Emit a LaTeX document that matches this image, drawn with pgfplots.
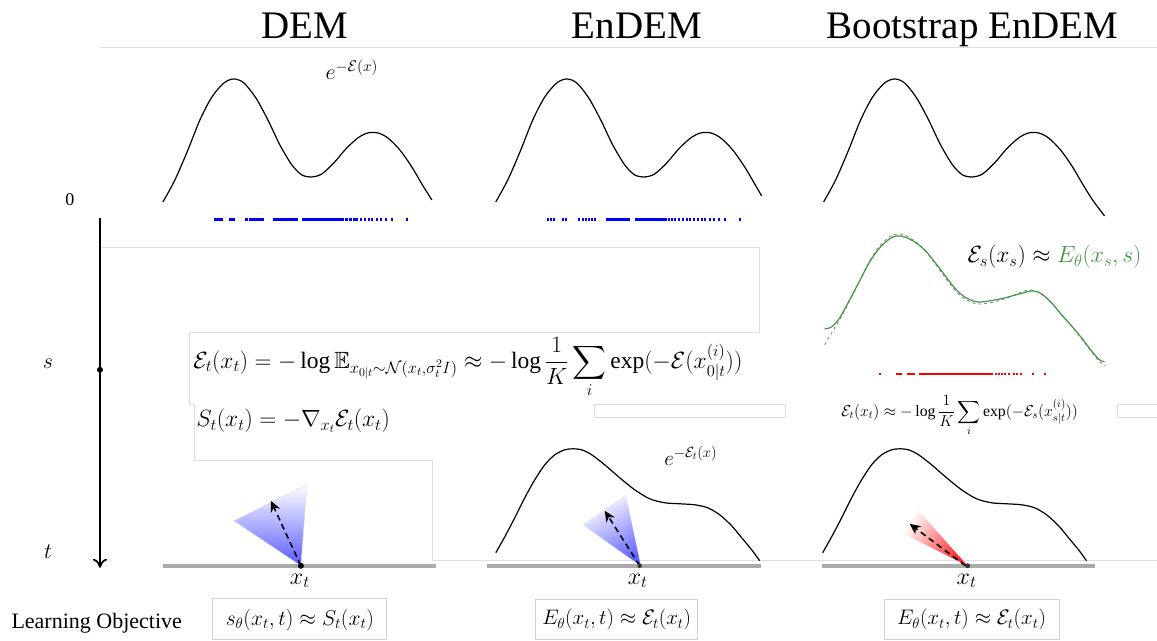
\documentclass[border=0pt]{standalone}
\usepackage{fix-cm}
\usepackage{amsmath,amssymb}
\usepackage{fontspec}
\setmainfont{Liberation Serif}
\usepackage{pgfplots}
\pgfplotsset{compat=1.18}
\usetikzlibrary{arrows.meta}
\definecolor{mygreen}{RGB}{64,152,64}
\definecolor{linegray}{RGB}{222,222,222}
\definecolor{basegray}{RGB}{170,170,170}
\begin{document}
\begin{tikzpicture}
\begin{axis}[hide axis, scale only axis, width=1157pt, height=640pt,
  xmin=0, xmax=1157, ymin=0, ymax=640, y dir=reverse, clip=false]
\path (0,0) rectangle (1157,640);
% --- titles
\node[anchor=base, font=\fontsize{39}{44}\selectfont] at (305,39) {DEM};
\node[anchor=base, font=\fontsize{39}{44}\selectfont] at (637,39) {EnDEM};
\node[anchor=base, font=\fontsize{39}{44}\selectfont] at (973,39) {Bootstrap EnDEM};
% --- screenshot frame lines
\draw[linegray, line width=1pt] (100,48) -- (1157,48);
\draw[linegray, line width=1pt] (100,248) -- (760,248) -- (760,333) -- (190,333) -- (190,405) -- (195,405) -- (195,461) -- (433,461) -- (433,561) -- (1157,561);
\draw[linegray, line width=1pt] (595,405) rectangle (786,418);
\draw[linegray, line width=1pt] (1157,405) -- (1118,405) -- (1118,418) -- (1157,418);
% --- time axis
\draw[line width=1.8pt, -{To[length=9pt,width=14pt]}] (100,218) -- (100,568);
\fill (100,370) circle[radius=3pt];
\node[font=\fontsize{18}{20}\selectfont] at (70,200) {0};
\node[font=\fontsize{22}{24}\selectfont] at (48,364) {$s$};
\node[font=\fontsize{22}{24}\selectfont] at (48,552) {$t$};
% --- top curves
\addplot[black, line width=1.2pt, smooth] coordinates {
(163,202)(175,180)(188,150)(200,120)(212,97)(224,83)(234,79)(244,83)(256,98)(268,120)(280,145)(292,165)(302,175)(312,177)(322,174)(334,163)(346,149)(358,138)(368,133)(378,133)(388,138)(400,150)(412,167)(422,184)(432,200)};
\addplot[black, line width=1.2pt, smooth] coordinates {
(496,202)(508,180)(521,150)(533,120)(545,97)(557,83)(567,79)(577,83)(589,98)(601,120)(613,145)(625,165)(635,175)(645,177)(655,174)(667,163)(679,149)(691,138)(701,133)(711,133)(721,138)(733,150)(745,167)(755,184)(762,196)};
\addplot[black, line width=1.2pt, smooth] coordinates {
(824,202)(836,180)(849,150)(861,120)(873,97)(885,83)(895,79)(905,83)(917,98)(929,120)(941,145)(953,165)(963,175)(973,177)(983,174)(995,163)(1007,149)(1019,138)(1029,133)(1039,133)(1049,138)(1061,150)(1073,167)(1083,184)(1093,200)(1105,216)};
\node[font=\fontsize{22}{24}\selectfont] at (352,70) {$e^{-\mathcal{E}(x)}$};
% --- blue samples
\addplot[only marks, mark=square*, mark size=0.85pt, blue] coordinates {
(215,219)(218,219)(221,219)(230,219)(233,219)(246,219)(250,219)(253,219)(256,219)(259,219)(262,219)(274,219)(276,219)(278,219)(280,219)(282,219)(284,219)(286,219)(288,219)(290,219)(292,219)(294,219)(296,219)(303,219)(305,219)(307,219)(309,219)(311,219)(313,219)(315,219)(317,219)(319,219)(321,219)(323,219)(325,219)(327,219)(329,219)(331,219)(333,219)(336,219)(339,219)(342,219)(346,219)(350,219)(354,219)(357,219)(361,219)(365,219)(369,219)(372,219)(377,219)(381,219)(386,219)(392,219)(407,219)};
\addplot[only marks, mark=square*, mark size=0.85pt, blue] coordinates {
(548,219)(551,219)(554,219)(563,219)(566,219)(579,219)(583,219)(586,219)(589,219)(592,219)(595,219)(607,219)(609,219)(611,219)(613,219)(615,219)(617,219)(619,219)(621,219)(623,219)(625,219)(627,219)(629,219)(636,219)(638,219)(640,219)(642,219)(644,219)(646,219)(648,219)(650,219)(652,219)(654,219)(656,219)(658,219)(660,219)(662,219)(664,219)(666,219)(669,219)(672,219)(675,219)(679,219)(683,219)(687,219)(690,219)(694,219)(698,219)(702,219)(705,219)(710,219)(714,219)(719,219)(725,219)(740,219)};
% --- bootstrap intermediate curve
\addplot[gray, dashed, line width=0.8pt, smooth] coordinates {
(825,345)(832,333)(840,320)(850,301)(860,281)(870,261)(880,246)(890,237)(897,234)(905,235)(915,241)(925,250)(935,263)(945,277)(955,290)(965,299)(977,304)(990,303)(1005,299)(1020,293)(1030,290)(1040,293)(1050,301)(1060,312)(1072,326)(1082,339)(1092,352)(1100,362)(1106,366)};
\addplot[mygreen, line width=1.2pt, smooth] coordinates {
(825,329)(832,327)(840,318)(850,300)(860,281)(870,262)(880,248)(890,239)(897,236)(905,237)(915,242)(925,250)(935,262)(945,275)(955,288)(965,297)(977,302)(990,301)(1005,298)(1020,294)(1033,291)(1042,294)(1052,303)(1062,315)(1072,326)(1082,338)(1092,351)(1100,360)(1105,362)};
\node[font=\fontsize{23.5}{27}\selectfont] at (1055,257) {$\mathcal{E}_s(x_s)\approx{\color{mygreen}E_\theta(x_s,s)}$};
\addplot[only marks, mark=square*, mark size=0.85pt, red] coordinates {
(880,374)(897,374)(899,374)(901,374)(908,374)(910,374)(912,374)(914,374)(920,374)(922,374)(924,374)(926,374)(928,374)(930,374)(932,374)(934,374)(936,374)(938,374)(940,374)(942,374)(944,374)(946,374)(948,374)(950,374)(952,374)(954,374)(956,374)(958,374)(960,374)(962,374)(964,374)(966,374)(968,374)(970,374)(972,374)(974,374)(976,374)(978,374)(980,374)(982,374)(984,374)(986,374)(988,374)(990,374)(992,374)(996,374)(999,374)(1002,374)(1005,374)(1009,374)(1014,374)(1017,374)(1021,374)(1033,374)(1045,374)};
% --- formulas
\node[anchor=west, font=\fontsize{23.5}{27}\selectfont] at (190,368) {$\displaystyle \mathcal{E}_t(x_t) = -\log \mathbb{E}_{x_{0|t}\sim\mathcal{N}(x_t,\sigma_t^2 I)} \approx -\log\frac{1}{K}\sum_i \exp(-\mathcal{E}(x_{0|t}^{(i)}))$};
\node[anchor=west, font=\fontsize{23.5}{27}\selectfont] at (193,421) {$S_t(x_t) = -\nabla_{x_t}\mathcal{E}_t(x_t)$};
\node[font=\fontsize{15.8}{18}\selectfont] at (960,416) {$\displaystyle \mathcal{E}_t(x_t) \approx -\log\frac{1}{K}\sum_i \exp(-\mathcal{E}_s(x_{s|t}^{(i)}))$};
% --- bottom curves
\addplot[black, line width=1.2pt, smooth] coordinates {
(496,553)(505,537)(515,518)(525,498)(535,480)(545,465)(555,455)(565,450)(573,449)(582,450)(592,455)(605,465)(620,478)(635,490)(650,499)(665,503)(680,504)(695,505)(708,508)(720,515)(732,526)(742,538)(752,550)(760,561)};
\addplot[black, line width=1.2pt, smooth] coordinates {
(823,553)(832,537)(842,518)(852,498)(862,480)(872,465)(882,455)(892,450)(900,449)(909,450)(919,455)(932,465)(947,478)(962,490)(977,499)(992,503)(1007,504)(1022,505)(1035,508)(1047,515)(1059,526)(1069,538)(1079,550)(1087,561)};
\node[font=\fontsize{21}{24}\selectfont] at (691,456) {$e^{-\mathcal{E}_t(x)}$};
% baselines
\draw[basegray, line width=3.5pt] (163,566) -- (436,566);
\draw[basegray, line width=3.5pt] (487,566) -- (761,566);
\draw[basegray, line width=3.5pt] (822,566) -- (1095,566);
% cones
\shade[bottom color=blue!65, top color=white, draw=gray!30, line width=0.4pt] (301,566) -- (234,521) -- (307,485) -- cycle;
\shade[bottom color=blue!60, top color=white, shading angle=30] (641,566) -- (583,525) -- (626,495) -- cycle;
\shade[bottom color=red!85, top color=white, shading angle=57] (968,566) -- (902,533) -- (918,510) -- cycle;
% arrows
\draw[black, line width=1.6pt, dash pattern=on 6pt off 4pt, -{Stealth[length=11pt,width=10pt]}] (301,566) -- (271,501);
\draw[black, line width=1.6pt, dash pattern=on 6pt off 4pt, -{Stealth[length=11pt,width=10pt]}] (640,566) -- (605,511);
\draw[black, line width=1.6pt, dash pattern=on 6pt off 4pt, -{Stealth[length=11pt,width=10pt]}] (966,566) -- (910,524);
\fill (301,566) circle[radius=3pt];
\fill[black!80] (640,566) circle[radius=2.2pt];
\fill[black!80] (968,566) circle[radius=2.5pt];
\node[font=\fontsize{24}{26}\selectfont] at (300,581) {$x_t$};
\node[font=\fontsize{24}{26}\selectfont] at (638,581) {$x_t$};
\node[font=\fontsize{24}{26}\selectfont] at (967,581) {$x_t$};
% --- learning objectives
\node[anchor=base west, font=\fontsize{22}{26}\selectfont] at (8,629) {Learning Objective};
\draw[gray!35, line width=1pt] (213,599) rectangle (387,640);
\draw[gray!35, line width=1pt] (536,600) rectangle (698,640);
\draw[gray!35, line width=1pt] (885,600) rectangle (1060,640);
\node[font=\fontsize{21.5}{24}\selectfont] at (300,620) {$s_\theta(x_t,t)\approx S_t(x_t)$};
\node[font=\fontsize{21}{24}\selectfont] at (617,620) {$E_\theta(x_t,t)\approx \mathcal{E}_t(x_t)$};
\node[font=\fontsize{21}{24}\selectfont] at (972,620) {$E_\theta(x_t,t)\approx \mathcal{E}_t(x_t)$};
\end{axis}
\end{tikzpicture}
\end{document}
